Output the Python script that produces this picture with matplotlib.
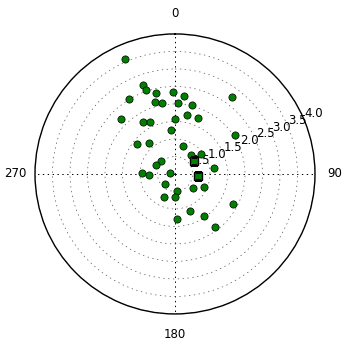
import numpy as np
import matplotlib.pyplot as plt

plt.rcParams['lines.scale_dashes'] = False

# observations: azimuth (deg, clockwise from north) and radius
theta_deg = [336.6, 340.3, 341.1, 347.0, 358.8, 6.6, 36.6, 328.5, 344.4, 349.8,
             2.2, 14.0, 315.2, 328.5, 334.5, 0.4, 11.9, 22.7, 355.2, 57.3,
             308.3, 320.1, 15.9, 41.2, 53.3, 312.8, 294.9, 81.8, 271.2, 267.0,
             278.0, 223.1, 174.5, 128.0, 114.4, 205.2, 180.8, 117.2, 157.5, 145.3,
             177.0, 142.9]
radius = [3.57, 2.69, 2.53, 2.37, 2.33, 2.25, 2.75, 2.50, 2.13, 2.05,
          2.02, 2.04, 2.20, 1.73, 1.64, 1.56, 1.71, 1.72, 1.26, 2.05,
          1.38, 1.14, 0.83, 0.71, 0.94, 0.53, 0.59, 1.14, 0.93, 0.73,
          0.13, 0.40, 0.50, 0.66, 0.92, 0.74, 0.67, 1.87, 1.14, 1.47,
          1.30, 1.91]

# mean positions (squares)
mean_theta_deg = [56.8, 95.7]
mean_radius = [0.66, 0.67]

r_ticks = [0.5, 1.0, 1.5, 2.0, 2.5, 3.0, 3.5, 4.0]
theta_ticks = [0, 90, 180, 270]

fig = plt.figure(figsize=(3.5, 3.5), dpi=100)
ax = fig.add_axes([0.1, 0.103, 0.8, 0.8], polar=True)
ax.set_theta_zero_location('N')
ax.set_theta_direction(-1)

ax.plot(np.radians(theta_deg), radius, 'o', color='#007f00', mec='black',
        mew=0.5, ms=5.2, linestyle='none')
ax.plot(np.radians(mean_theta_deg), mean_radius, 's', color='#007f00',
        mec='black', mew=1, ms=6, linestyle='none')

ax.set_ylim(0, 4.0)
ax.set_rgrids(r_ticks, labels=[f'{v:.1f}' for v in r_ticks], fontsize=8.5)
ax.set_rlabel_position(67.5)
for lbl in ax.get_yticklabels():
    lbl.set_ha('left')
    lbl.set_va('bottom')
ax.set_thetagrids(theta_ticks, labels=[str(t) for t in theta_ticks], fontsize=8.5)
ax.tick_params(axis='x', pad=4)
ax.xaxis.grid(True, color='black', linestyle=(0, (1, 2.5)), linewidth=0.7)
ax.yaxis.grid(True, color='#555555', linestyle=(0, (1, 2.5)), linewidth=0.5)
ax.spines['polar'].set_linewidth(1.0)

fig.savefig('out.png', dpi=100)
